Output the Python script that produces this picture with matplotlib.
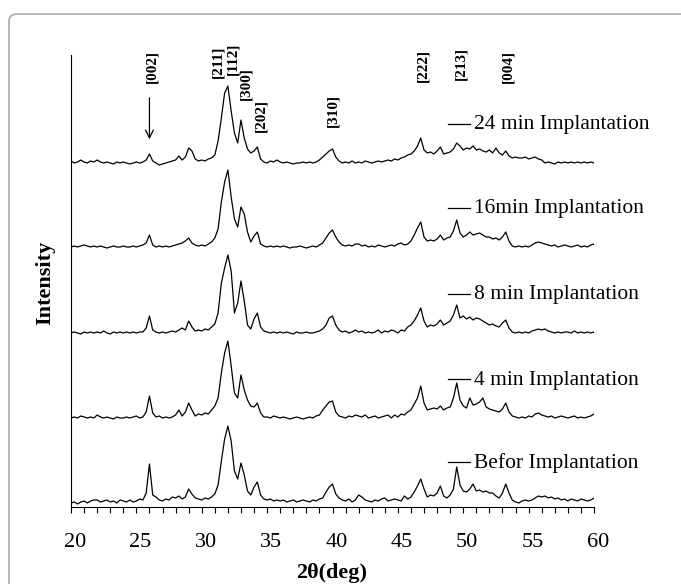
import matplotlib
matplotlib.use("Agg")
import matplotlib.pyplot as plt
import matplotlib.transforms as mtransforms
from matplotlib.patches import FancyBboxPatch
import numpy as np

plt.rcParams['font.family'] = ['Liberation Serif', 'DejaVu Serif']

# 2theta sampling, 0.25 deg steps
two_theta = np.arange(20.0, 60.001, 0.25)

# intensities (arb. units) above each trace's own baseline, 2 deg per row
befor = [
    -2, -1, -3, -1, 0, -2, 0, 1,
    1, -1, 0, 1, -1, 0, -2, 1,
    0, -1, 1, -1, 0, 2, 1, 8,
    37, 6, 4, 1, 0, 2, 1, 4,
    3, 5, 2, 4, 12, 7, 3, 2,
    1, 3, 2, 4, 7, 16, 40, 62,
    75, 60, 30, 22, 38, 26, 10, 6,
    14, 19, 6, 2, 1, 2, 0, 1,
    0, 1, -1, 0, 1, -1, 0, 1,
    0, -1, 1, 0, 2, 3, 9, 14,
    17, 7, 3, 1, 0, 2, -1, 1,
    6, 4, 1, 0, -1, 1, 0, 2,
    3, 0, 1, 2, 1, 0, 5, 2,
    4, 9, 15, 22, 12, 4, 6, 5,
    8, 15, 5, 3, 6, 12, 34, 16,
    10, 9, 12, 17, 10, 11, 9, 10,
    8, 8, 5, 3, 8, 17, 8, 1,
    -1, -2, 0, 1, 0, 1, 3, 5,
    4, 5, 3, 4, 2, 3, 1, 2,
    0, 2, 1, 0, 2, 1, 0, 1,
    3]
min4 = [
    0, 1, 0, 2, 1, 0, 1, 0,
    3, 1, 0, 1, 0, -1, 1, 0,
    0, 1, 0, 1, 2, 0, 1, 6,
    22, 5, 1, 2, 0, 1, 0, 1,
    3, 8, 2, 6, 15, 8, 2, 4,
    3, 5, 4, 8, 12, 20, 45, 65,
    77, 52, 25, 20, 43, 28, 18, 12,
    11, 15, 5, 1, 1, 0, 2, 1,
    0, 1, 0, -1, 0, 1, 0, -1,
    0, 1, 0, 2, 3, 8, 12, 16,
    17, 6, 2, 1, 0, 2, 1, 3,
    2, 1, 3, 0, 1, 2, 0, 1,
    2, 3, 0, 3, 1, 4, 3, 6,
    8, 14, 20, 32, 15, 8, 9, 10,
    9, 12, 8, 10, 11, 20, 35, 18,
    12, 10, 20, 13, 14, 16, 20, 11,
    9, 8, 7, 6, 9, 15, 6, 2,
    1, 0, 1, 0, 2, 1, 4, 5,
    3, 2, 1, 2, 0, 1, 2, 1,
    0, 1, 2, 0, 1, 0, 1, 2,
    4]
min8 = [
    0, 1, 0, -1, 1, 0, 1, 0,
    1, 0, 2, 0, -1, 1, 0, 1,
    0, 1, 0, 1, 0, 1, 1, 5,
    17, 3, 1, 0, 1, 0, 1, 2,
    1, 3, 5, 3, 12, 6, 2, 3,
    2, 4, 3, 6, 9, 20, 50, 65,
    78, 62, 20, 30, 52, 32, 8, 4,
    14, 20, 6, 2, 1, 0, 1, 0,
    1, 0, 1, 0, -1, 1, 0, 0,
    1, 0, 0, 1, 2, 4, 8, 15,
    17, 8, 3, 1, 2, 0, 1, 3,
    1, 2, 0, 1, 0, 1, 3, 0,
    2, 1, 3, 2, 0, 3, 2, 6,
    8, 12, 18, 25, 12, 6, 8, 7,
    9, 13, 8, 10, 12, 18, 28, 15,
    17, 14, 16, 13, 15, 14, 12, 10,
    8, 9, 7, 6, 10, 13, 5, 1,
    0, 1, 0, 1, 0, 2, 3, 4,
    3, 4, 2, 1, 0, 1, 0, 1,
    1, 0, 2, 0, 1, 0, 1, 0,
    1]
min16 = [
    0, 1, 0, 1, 2, 1, 0, 1,
    0, 1, 0, -1, 0, 1, 0, 0,
    1, 0, 0, 1, 0, 1, 2, 4,
    12, 2, 0, 1, 0, 1, 0, 1,
    2, 3, 4, 6, 9, 4, 2, 1,
    2, 1, 3, 5, 9, 18, 45, 65,
    77, 50, 28, 20, 40, 33, 15, 5,
    11, 15, 3, 1, 0, 1, 0, 1,
    0, 1, 0, -1, 0, 0, 1, 0,
    -1, 0, 1, 0, 2, 4, 9, 14,
    17, 10, 5, 2, 1, 2, 1, 3,
    3, 1, 2, 0, 1, 0, 2, 1,
    0, 1, 2, 1, 3, 4, 2, 3,
    6, 12, 19, 25, 10, 6, 7, 6,
    8, 12, 7, 9, 10, 16, 27, 14,
    10, 12, 15, 12, 13, 14, 12, 10,
    10, 8, 9, 7, 10, 15, 6, 1,
    0, 1, 0, 1, 0, 2, 4, 5,
    4, 3, 2, 1, 2, 0, 1, 2,
    1, 0, 1, 2, 0, 1, 0, 2,
    3]
min24 = [
    2, 0, 1, 3, 1, 0, 2, 1,
    3, 1, 0, 1, 0, -1, 1, 0,
    1, 0, -1, 0, 1, 0, 1, 3,
    9, 2, 0, -2, -1, 0, 1, 2,
    3, 7, 3, 6, 15, 12, 4, 2,
    3, 2, 4, 5, 8, 22, 45, 70,
    77, 52, 30, 20, 43, 25, 14, 10,
    12, 16, 4, 1, 0, 2, 1, 3,
    1, 0, 1, 0, -1, 0, 0, 1,
    0, 1, 0, 1, 3, 6, 9, 12,
    14, 6, 2, 0, 1, 0, 2, 0,
    1, 0, 2, 1, 0, 1, 2, 1,
    2, 3, 2, 4, 3, 5, 6, 8,
    9, 12, 17, 25, 13, 10, 11, 9,
    12, 16, 9, 10, 11, 14, 20, 17,
    13, 15, 14, 17, 13, 14, 12, 11,
    13, 10, 15, 10, 8, 12, 7, 5,
    6, 5, 5, 6, 4, 5, 6, 4,
    3, 0, 1, 0, -1, 1, 0, 1,
    0, 1, 0, 1, 0, 1, 0, 1,
    0]

series = [befor, min4, min8, min16, min24]
labels = ["Befor Implantation", "4 min Implantation", "8 min Implantation",
          "16min Implantation", "24 min Implantation"]
offsets = [6, 89, 174, 260, 344]

# reflections: name, 2theta, bottom of the rotated label
hkl = ["[002]", "[211]", "[112]", "[300]", "[202]", "[310]", "[222]", "[213]", "[004]"]
hkl_pos = [26.2, 31.2, 32.4, 33.4, 34.5, 40.0, 46.9, 49.8, 53.4]
hkl_y = [424, 429, 432, 407, 375, 380, 425, 427, 424]

fig = plt.figure(figsize=(6.81, 5.84), dpi=100)

# rounded grey frame (only top/left visible in the picture)
frame = FancyBboxPatch((9 / 681, -0.1), 1.2, 1.0 - 14 / 584 + 0.1,
                       boxstyle="round,pad=0,rounding_size=0.012",
                       transform=fig.transFigure, fill=False,
                       edgecolor="#aaaaaa", linewidth=1.2)
fig.add_artist(frame)

ax = fig.add_axes([71 / 681, 77 / 584, 523 / 681, 452 / 584])

for y, off in zip(series, offsets):
    ax.plot(two_theta, np.array(y) + off, color="black", lw=0.9)

for lab, off in zip(labels, offsets):
    ax.plot([48.85, 50.55], [off + 39, off + 39], color="black", lw=0.9)
    ax.text(50.8, off + 38, lab, fontsize=15.5, va="center", ha="left")

for name, xp, yp in zip(hkl, hkl_pos, hkl_y):
    ax.text(xp, yp, name, rotation=90, fontsize=11, fontweight="bold",
            ha="center", va="bottom", clip_on=False)

ax.annotate("", xy=(26.0, 365), xytext=(26.0, 412),
            arrowprops=dict(arrowstyle="->", color="black", lw=0.9,
                            mutation_scale=14))

ax.set_xlim(20, 60)
ax.set_ylim(0, 452)
ax.spines["top"].set_visible(False)
ax.spines["right"].set_visible(False)
ax.set_yticks([])
ax.set_xticks(np.arange(20, 61, 5))
ax.set_xticks(np.arange(20, 61, 1), minor=True)
ax.tick_params(axis="x", which="both", direction="out", length=4.5,
               width=0.8, labelsize=16, pad=14)

# tick labels sit a few pixels right of their ticks in the original
shift = mtransforms.ScaledTranslation(0.04, 0, fig.dpi_scale_trans)
for lbl in ax.get_xticklabels():
    lbl.set_transform(lbl.get_transform() + shift)

fig.text(332 / 681, 1 - 573 / 584, "2θ(deg)", fontsize=16, fontweight="bold",
         ha="center", va="center")
fig.text(45 / 681, 1 - 283 / 584, "Intensity", fontsize=16, fontweight="bold",
         ha="center", va="center", rotation=90)

fig.savefig("out.png", dpi=100)
